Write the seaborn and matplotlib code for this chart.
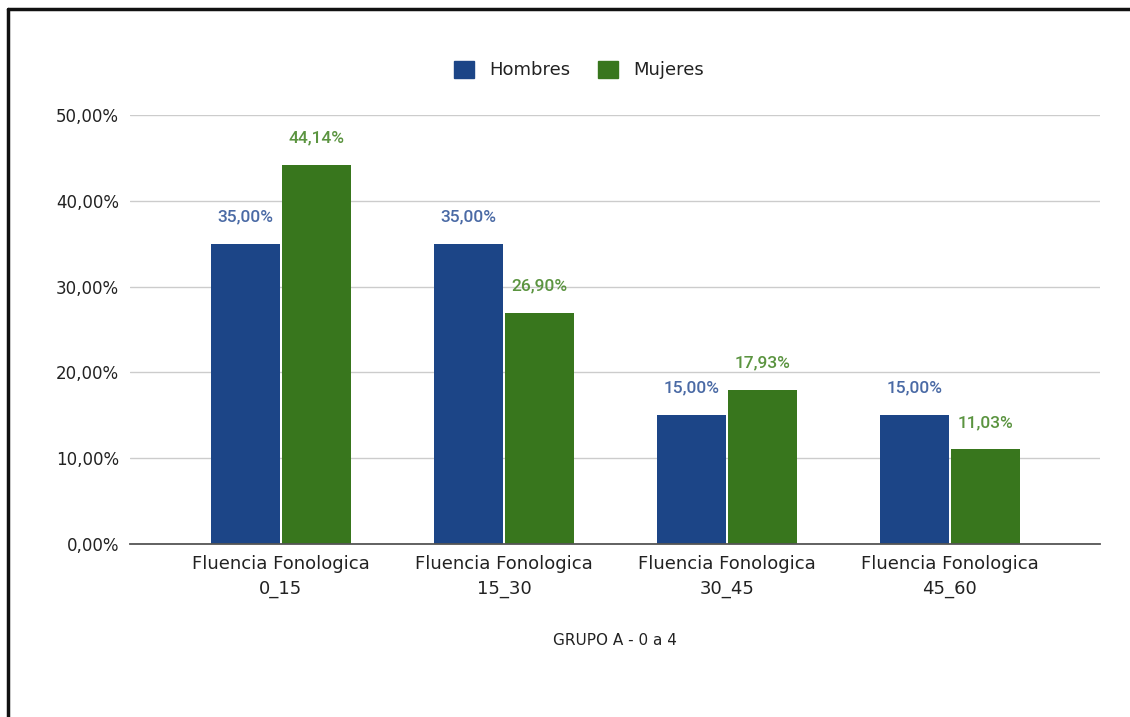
import matplotlib
matplotlib.use("Agg")
import matplotlib.pyplot as plt
from matplotlib.lines import Line2D
from matplotlib.patches import Patch
from matplotlib.ticker import FuncFormatter, MultipleLocator
import seaborn as sns
import pandas as pd

# Data
categories = ["Fluencia Fonologica\n0_15", "Fluencia Fonologica\n15_30",
              "Fluencia Fonologica\n30_45", "Fluencia Fonologica\n45_60"]
hombres = [35.00, 35.00, 15.00, 15.00]
mujeres = [44.14, 26.90, 17.93, 11.03]
series_names = ["Hombres", "Mujeres"]
x_title = "GRUPO A - 0 a 4"

colors = {"Hombres": "#1c4587", "Mujeres": "#38761d"}
label_colors = {"Hombres": "#4a6aa5", "Mujeres": "#5b9440"}
text_color = "#222222"

df = pd.DataFrame({
    "categoria": categories * 2,
    "serie": [series_names[0]] * len(categories) + [series_names[1]] * len(categories),
    "valor": hombres + mujeres,
})

sns.set_theme(style="white")
plt.rcParams["font.family"] = ["DejaVu Sans"]

fig = plt.figure(figsize=(11.30, 7.17), dpi=100)
ax = fig.add_axes([130 / 1130, 1 - 544 / 717, 970 / 1130, (544 - 115) / 717])

sns.barplot(data=df, x="categoria", y="valor", hue="serie", order=categories,
            hue_order=series_names, palette=colors, width=0.64, gap=0.04,
            ax=ax, legend=False, saturation=1, linewidth=0)

ax.set_ylim(0, 50)
ax.set_xlim(-0.677, 3.673)
ax.yaxis.set_major_locator(MultipleLocator(10))
ax.yaxis.set_major_formatter(FuncFormatter(lambda v, p: f"{v:.2f}".replace(".", ",") + "%"))
ax.grid(axis="y", color="#cccccc", linewidth=1)
ax.set_axisbelow(True)
for s in ["top", "right", "left"]:
    ax.spines[s].set_visible(False)
ax.spines["bottom"].set_color("#555555")
ax.spines["bottom"].set_linewidth(1.3)
ax.tick_params(axis="y", labelsize=12, colors=text_color, pad=8, length=0)
ax.tick_params(axis="x", labelsize=13, colors=text_color, pad=8, length=0)
for t in ax.get_xticklabels():
    t.set_linespacing(1.5)
ax.set_ylabel("")
ax.set_xlabel(x_title, fontsize=11, color=text_color, labelpad=25)

# value labels above the bars
for container, name in zip(ax.containers, series_names):
    labels = [f"{b.get_height():.2f}".replace(".", ",") + "%" for b in container]
    ax.bar_label(container, labels=labels, padding=14, fontsize=12.5, fontweight="medium",
                 color=label_colors[name], family=["Roboto", "DejaVu Sans"])

handles = [Patch(facecolor=colors[n], edgecolor=colors[n]) for n in series_names]
fig.legend(handles, series_names, loc="center", bbox_to_anchor=(579 / 1130, 1 - 70 / 717),
           ncol=2, frameon=False, fontsize=13, handlelength=1.1, handleheight=1.1,
           handletextpad=0.85, columnspacing=1.5, labelcolor=text_color)

# frame lines along the top and left edges of the figure
fig.add_artist(Line2D([8 / 1130, 1.0], [1 - 9 / 717, 1 - 9 / 717], color="#111111", linewidth=2.5,
                      transform=fig.transFigure))
fig.add_artist(Line2D([8 / 1130, 8 / 1130], [0.0, 1 - 9 / 717], color="#111111", linewidth=2.5,
                      transform=fig.transFigure))

fig.savefig("out.png", dpi=100, facecolor="white")
